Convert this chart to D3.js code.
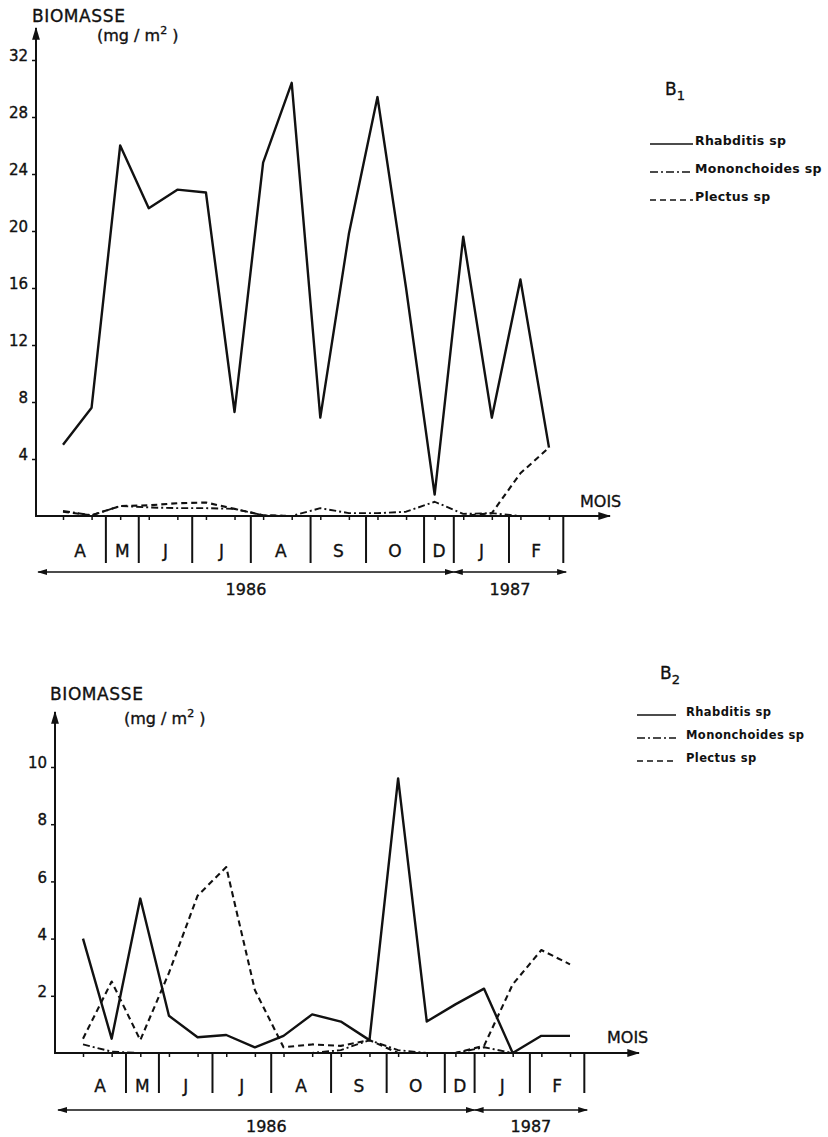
<!DOCTYPE html>
<html>
<head>
<meta charset="utf-8">
<script src="https://cdn.jsdelivr.net/npm/d3@7"></script>
<style>
  body { margin: 0; background: #fff; }
  svg { display: block; }
  text { font-family: "DejaVu Sans", sans-serif; fill: #111; stroke: #111; stroke-width: 0.35px; }
</style>
</head>
<body>
<div id="chart"></div>
<script>
// sampling dates (fortnightly), indexed 0..17 from April 1986 to February 1987
const samples = [0, 1, 2, 3, 4, 5, 6, 7, 8, 9, 10, 11, 12, 13, 14, 15, 16, 17];
const months = ["A", "M", "J", "J", "A", "S", "O", "D", "J", "F"];
// month ends, in sample units
const monthBounds = [1.5, 2.65, 4.52, 6.57, 8.66, 10.6, 12.63, 13.67, 15.6, 17.5];
const yearLabels = ["1986", "1987"];
const yearBounds = [-0.87, 13.67, 17.6];
const species = ["Rhabditis sp", "Mononchoides sp", "Plectus sp"];

// station B1
const b1Ticks = [4, 8, 12, 16, 20, 24, 28, 32];
const b1Rhabditis = [5.0, 7.6, 26.0, 21.6, 22.9, 22.7, 7.3, 24.8, 30.4, 6.9, 19.8, 29.4, 16.0, 1.5, 19.6, 6.9, 16.6, 4.8];
const b1Mononchoides = [0.35, 0.05, 0.7, 0.6, 0.55, 0.55, 0.5, 0.05, 0, 0.55, 0.2, 0.2, 0.3, 1.0, 0.15, 0.2, 0];
const b1Plectus = [0.3, 0.05, 0.7, 0.75, 0.9, 0.95, 0.5, 0.05, 0, 0, 0, 0, 0, 0, 0, 0.2, 3.0, 4.8];

// station B2
const b2Ticks = [2, 4, 6, 8, 10];
const b2Rhabditis = [4.0, 0.5, 5.4, 1.3, 0.55, 0.63, 0.2, 0.6, 1.35, 1.1, 0.45, 9.6, 1.1, 1.7, 2.25, 0, 0.6, 0.6];
const b2Mononchoides = [0.3, 0.05, 0, 0, 0, 0, 0, 0, 0, 0.1, 0.45, 0.1, 0, 0, 0.2, 0];
const b2Plectus = [0.5, 2.5, 0.45, 2.8, 5.5, 6.5, 2.2, 0.2, 0.3, 0.25, 0.45, 0, 0, 0, 0.25, 2.4, 3.6, 3.1];

const lineStyles = [
  { width: 2.4, dash: null },
  { width: 1.9, dash: "7,3,2,3" },
  { width: 2.1, dash: "6,4" }
];

const panels = [
  {
    tag: "1", ticks: b1Ticks, yMax: 32, series: [b1Rhabditis, b1Mononchoides, b1Plectus],
    x0: 63, x1: 549, axisX: 36, base: 516, top: 60, arrowTop: 28, axisEnd: 610,
    divBottom: 563, monthY: 557, yearY: 572, yearTextY: 595,
    title: [32, 22], unit: [97, 41], mois: [580, 507], tagPos: [665, 95],
    legend: { x1: 650, x2: 693, ys: [144, 172, 200], textX: 695, size: 12.5, spacing: 0.3 }
  },
  {
    tag: "2", ticks: b2Ticks, yMax: 10, series: [b2Rhabditis, b2Mononchoides, b2Plectus],
    x0: 83, x1: 570, axisX: 55, base: 1053, top: 767, arrowTop: 712, axisEnd: 639,
    divBottom: 1093, monthY: 1092, yearY: 1110, yearTextY: 1132,
    title: [50, 700], unit: [124, 724], mois: [607, 1043], tagPos: [660, 679],
    legend: { x1: 637, x2: 676, ys: [715, 738, 761], textX: 686, size: 11.5, spacing: 0.4 }
  }
];

const svg = d3.select("#chart").append("svg")
  .attr("width", 828)
  .attr("height", 1137);

// arrow heads
const defs = svg.append("defs");
defs.append("marker")
  .attr("id", "head")
  .attr("viewBox", "0 0 10 6")
  .attr("refX", 9).attr("refY", 3)
  .attr("markerUnits", "userSpaceOnUse")
  .attr("markerWidth", 13).attr("markerHeight", 8)
  .attr("orient", "auto-start-reverse")
  .append("path").attr("d", "M0,0L10,3L0,6Z").attr("fill", "#111");
defs.append("marker")
  .attr("id", "small")
  .attr("viewBox", "0 0 10 6")
  .attr("refX", 9).attr("refY", 3)
  .attr("markerUnits", "userSpaceOnUse")
  .attr("markerWidth", 10).attr("markerHeight", 6)
  .attr("orient", "auto-start-reverse")
  .append("path").attr("d", "M0,0L10,3L0,6Z").attr("fill", "#111");

panels.forEach(p => {
  const g = svg.append("g");
  const x = d3.scaleLinear().domain([0, samples.length - 1]).range([p.x0, p.x1]);
  const y = d3.scaleLinear().domain([0, p.yMax]).range([p.base, p.top]);

  // series
  const line = d3.line()
    .x((d, i) => x(samples[i]))
    .y(d => y(d));

  p.series.forEach((s, k) => {
    g.append("path")
      .datum(s)
      .attr("d", line)
      .attr("fill", "none")
      .attr("stroke", "#111")
      .attr("stroke-width", lineStyles[k].width)
      .attr("stroke-dasharray", lineStyles[k].dash)
      .attr("stroke-linejoin", "round");
  });

  // y axis
  const yAxis = g.append("g")
    .attr("transform", `translate(${p.axisX},0)`)
    .call(d3.axisLeft(y).tickValues(p.ticks).tickSize(4).tickPadding(4));
  yAxis.select(".domain").remove();
  yAxis.selectAll("line").attr("stroke", "#111").attr("stroke-width", 1.5);
  yAxis.selectAll("text")
    .attr("dy", "0.05em")
    .style("font-size", "15px")
    .style("font-family", "'DejaVu Sans', sans-serif");

  g.append("line")
    .attr("x1", p.axisX).attr("x2", p.axisX)
    .attr("y1", p.base + 1).attr("y2", p.arrowTop)
    .attr("stroke", "#111").attr("stroke-width", 2)
    .attr("marker-end", "url(#head)");

  // x axis with sample ticks
  const xAxis = g.append("g")
    .attr("transform", `translate(0,${p.base})`)
    .call(d3.axisBottom(x).tickValues(samples).tickSize(4).tickFormat(""));
  xAxis.select(".domain").remove();
  xAxis.selectAll("line").attr("stroke", "#111").attr("stroke-width", 1.5);

  g.append("line")
    .attr("x1", p.axisX - 1).attr("x2", p.axisEnd)
    .attr("y1", p.base).attr("y2", p.base)
    .attr("stroke", "#111").attr("stroke-width", 2)
    .attr("marker-end", "url(#head)");

  // month boxes
  g.selectAll(".div")
    .data(monthBounds)
    .enter().append("line")
    .attr("x1", d => x(d)).attr("x2", d => x(d))
    .attr("y1", p.base).attr("y2", p.divBottom)
    .attr("stroke", "#111").attr("stroke-width", 2);

  g.selectAll(".month")
    .data(months)
    .enter().append("text")
    .attr("x", (d, i) => x(i === 0 ? monthBounds[0] - 0.9 : (monthBounds[i - 1] + monthBounds[i]) / 2))
    .attr("y", p.monthY)
    .attr("text-anchor", "middle")
    .style("font-size", "17px")
    .text(d => d);

  // years
  yearLabels.forEach((lab, i) => {
    const a = x(yearBounds[i]), b = x(yearBounds[i + 1]);
    g.append("line")
      .attr("x1", a).attr("x2", b)
      .attr("y1", p.yearY).attr("y2", p.yearY)
      .attr("stroke", "#111").attr("stroke-width", 1.6)
      .attr("marker-start", "url(#small)")
      .attr("marker-end", "url(#small)");
    g.append("text")
      .attr("x", (a + b) / 2)
      .attr("y", p.yearTextY)
      .attr("text-anchor", "middle")
      .style("font-size", "16px")
      .text(lab);
  });

  // axis titles
  g.append("text")
    .attr("x", p.title[0]).attr("y", p.title[1])
    .style("font-size", "17px")
    .style("letter-spacing", "0.6px")
    .text("BIOMASSE");
  const unit = g.append("text")
    .attr("x", p.unit[0]).attr("y", p.unit[1])
    .style("font-size", "16px");
  unit.append("tspan").text("(mg / m");
  unit.append("tspan").attr("dy", -7).style("font-size", "11px").text("2");
  unit.append("tspan").attr("dy", 7).text(" )");

  g.append("text")
    .attr("x", p.mois[0]).attr("y", p.mois[1])
    .style("font-size", "16px")
    .text("MOIS");

  // station tag
  const tag = g.append("text")
    .attr("x", p.tagPos[0]).attr("y", p.tagPos[1])
    .style("font-size", "17px")
    .text("B");
  tag.append("tspan").attr("dy", 5).style("font-size", "13px").text(p.tag);

  // legend
  species.forEach((sp, k) => {
    const ly = p.legend.ys[k];
    g.append("line")
      .attr("x1", p.legend.x1).attr("x2", p.legend.x2)
      .attr("y1", ly).attr("y2", ly)
      .attr("stroke", "#111")
      .attr("stroke-width", 1.6)
      .attr("stroke-dasharray", k === 0 ? null : (k === 1 ? "8,3,2,3" : "6,4"));
    g.append("text")
      .attr("x", p.legend.textX).attr("y", ly + 1)
      .style("font-size", p.legend.size + "px")
      .style("font-weight", "bold")
      .style("letter-spacing", p.legend.spacing + "px")
      .style("stroke-width", "0")
      .text(sp);
  });
});
</script>
</body>
</html>
